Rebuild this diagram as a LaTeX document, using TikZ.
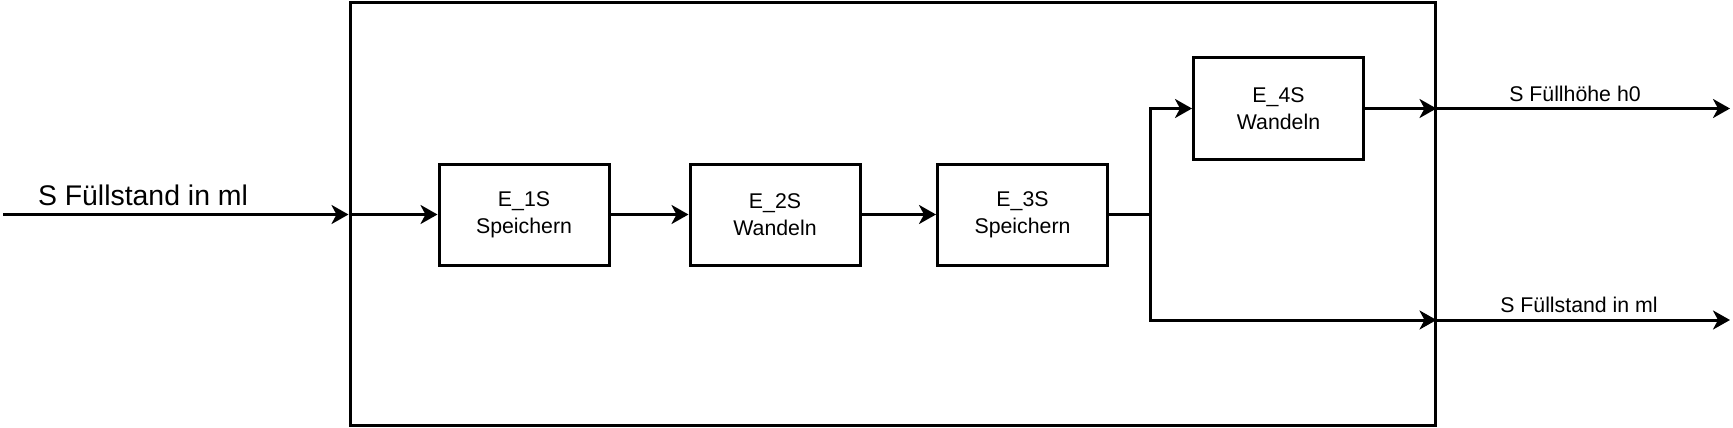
\documentclass[tikz,border=0pt]{standalone}
\usepackage{fontspec}
\setmainfont{Liberation Sans}
\usetikzlibrary{arrows.meta}
\begin{document}
\begin{tikzpicture}[x=1pt,y=-1pt,
  line width=3pt,
  blk/.style={draw, rectangle, minimum width=170pt, minimum height=101pt, inner sep=0pt, align=center,
    font=\fontsize{21.3}{27}\selectfont},
  arr/.style={-{Stealth[length=17pt,width=19pt,inset=5pt]}},
  lbl/.style={font=\fontsize{21.3}{26}\selectfont, inner sep=0pt, anchor=base},
  biglbl/.style={font=\fontsize{28.4}{34}\selectfont, inner sep=0pt, anchor=base}]
\useasboundingbox (0,0) rectangle (1733,428);
% outer system box
\node[draw, rectangle, minimum width=1085pt, minimum height=423pt, inner sep=0pt] (sys) at (892.5,214) {};
% blocks
\node[blk] (e1) at (524,214.5) {E\_1S\\Speichern};
\node[blk] (e2) at (775,214.5) {E\_2S\\Wandeln};
\node[blk] (e3) at (1022.5,214.5) {E\_3S\\Speichern};
\node[blk] (e4) at (1278.5,108.5) {E\_4S\\Wandeln};
% coordinates
\coordinate (in0) at (3,214.5);
\coordinate (inb) at (sys.west |- e1);
\coordinate (br) at (1150.5,214.5);
\coordinate (brtop) at (br |- e4);
\coordinate (brbot) at (1150.5,320);
\coordinate (o1b) at (sys.east |- e4);
\coordinate (o2b) at (sys.east |- brbot);
\coordinate (o1) at (1730,108.5);
\coordinate (o2) at (1730,320);
% connectors
\draw[arr] (in0) -- (inb);
\draw[arr] (inb) -- (e1.west);
\draw[arr] (e1) -- (e2);
\draw[arr] (e2) -- (e3);
\draw (e3.east) -- (br);
\draw[arr] (br) -- (brtop) -- (e4.west);
\draw[arr] (br) -- (brbot) -- (o2b);
\draw[arr] (e4.east) -- (o1b);
\draw[arr] (o1b) -- (o1);
\draw[arr] (o2b) -- (o2);
% labels
\node[biglbl] (lin) at (143,205) {S Füllstand in ml};
\node[lbl] (lo1) at (1575,101) {S Füllhöhe h0};
\node[lbl] (lo2) at (1579,312.5) {S Füllstand in ml};
\end{tikzpicture}
\end{document}
